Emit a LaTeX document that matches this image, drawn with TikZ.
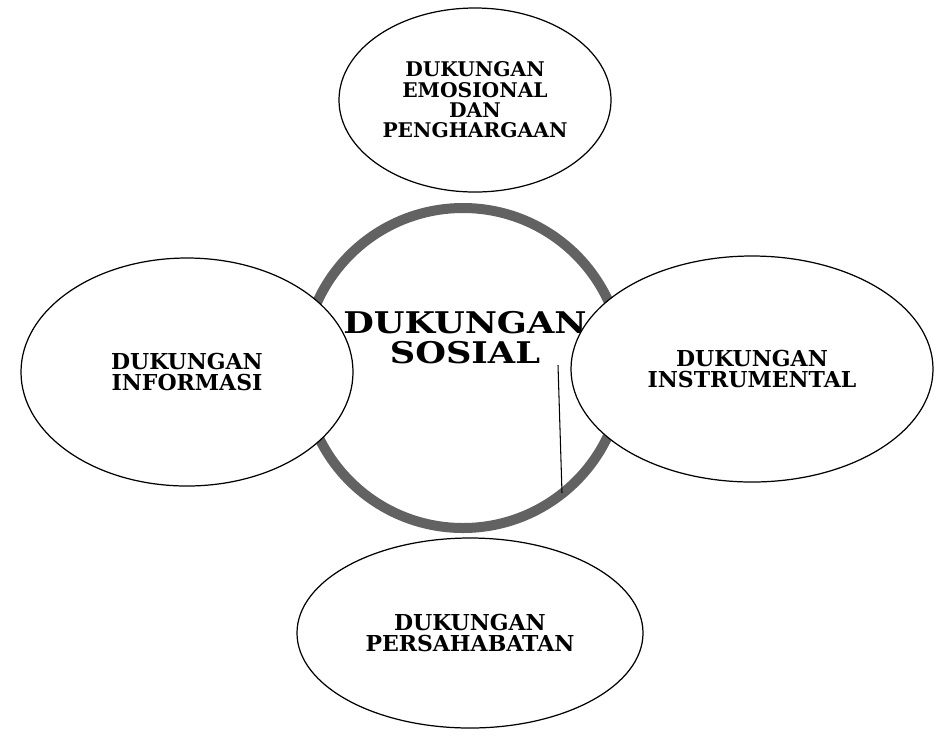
\documentclass[tikz,border=0pt]{standalone}
\usepackage{fontspec}
\setmainfont{DejaVu Serif}
\newfontfamily\judulfont{DejaVu Serif}[FakeStretch=1.18]
\usepackage{tikz}
\usetikzlibrary{shapes.geometric, positioning}
\definecolor{cincingray}{HTML}{626262}
\tikzset{
  aspek/.style={ellipse, draw=black, fill=white, line width=0.7pt, align=center,
                inner sep=0pt, font=\bfseries\fontsize{12.5}{11.6}\selectfont},
  cincin/.style={circle, draw=cincingray, line width=0.2cm, minimum size=6.4cm, inner sep=0pt},
  judul/.style={align=center, font=\judulfont\bfseries\fontsize{17}{17}\selectfont}
}
\begin{document}
\begin{tikzpicture}
    \useasboundingbox (0,0) rectangle (18.74,-14.74);

    \node[cincin] (sosial) at (9.26,-7.36) {};
    \node[judul] (judulsosial) at (9.3,-6.76) {DUKUNGAN\\SOSIAL};

    \node[aspek, minimum width=5.44cm, minimum height=3.68cm,
          font=\bfseries\fontsize{11.5}{11.6}\selectfont] (emosi) at (9.5,-2.0)
      {DUKUNGAN\\EMOSIONAL\\DAN\\PENGHARGAAN};
    \node[aspek, minimum width=6.64cm, minimum height=4.56cm] (informasi) at (3.74,-7.44)
      {DUKUNGAN\\INFORMASI};
    \node[aspek, minimum width=7.24cm, minimum height=4.52cm] (instrumental) at (15.04,-7.38)
      {DUKUNGAN\\INSTRUMENTAL};
    \node[aspek, minimum width=6.92cm, minimum height=3.8cm] (sahabat) at (9.4,-12.66)
      {DUKUNGAN\\PERSAHABATAN};

    \coordinate (garisatas) at (11.16,-7.3);
    \coordinate (garisbawah) at (11.24,-9.86);
    \draw[line width=0.6pt] (garisatas) -- (garisbawah);
  \end{tikzpicture}
\end{document}
